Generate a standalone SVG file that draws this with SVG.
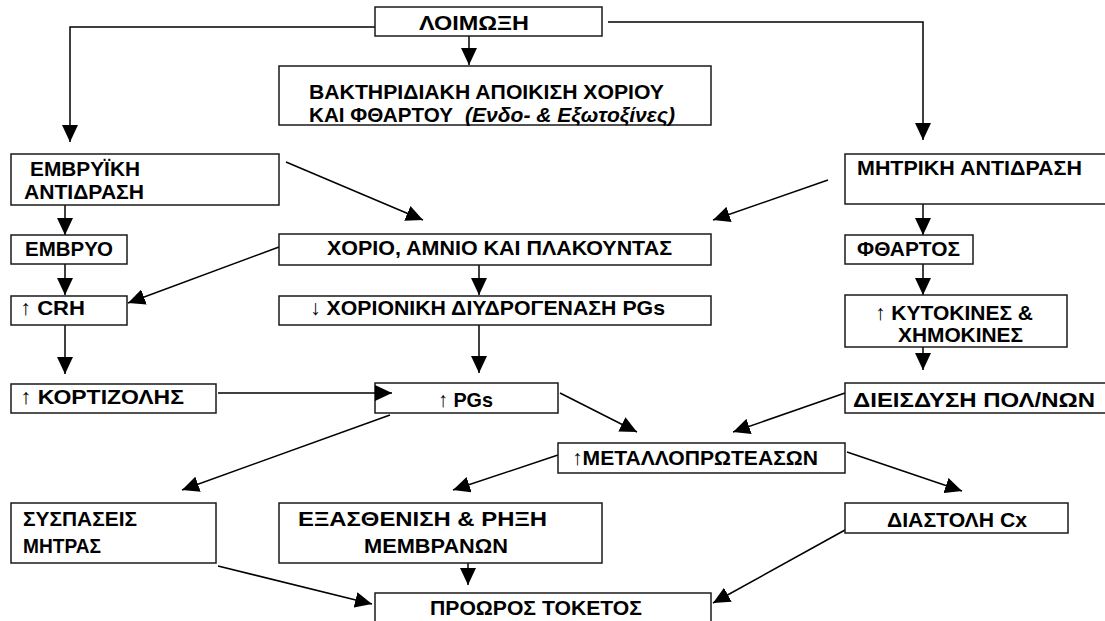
<svg xmlns="http://www.w3.org/2000/svg" width="1105" height="621" viewBox="0 0 1105 621">
<style>
.box{fill:#fff;stroke:#1a1a1a;stroke-width:1.5}
.t{font-family:"Liberation Sans",Arial,sans-serif;font-weight:bold;font-size:21px;fill:#000}
.i{font-style:italic}
.c{fill:none;stroke:#000;stroke-width:1.5;marker-end:url(#ah)}
</style>
<defs>
<marker id="ah" markerUnits="userSpaceOnUse" markerWidth="17" markerHeight="16" refX="17" refY="8" orient="auto" viewBox="0 0 17 16">
<path d="M0,0 L17,8 L0,16 z" fill="#000"/>
</marker>
</defs>
<rect width="1105" height="621" fill="#fff"/>
<g id="connectors">
<polyline class="c" points="375,27 70,27 70,142"/>
<polyline class="c" points="608,22 923,22 923,140"/>
<line class="c" x1="469" y1="36" x2="469" y2="65"/>
<line class="c" x1="65" y1="205" x2="65" y2="235"/>
<line class="c" x1="65" y1="264" x2="65" y2="295"/>
<line class="c" x1="65" y1="325" x2="65" y2="374"/>
<line class="c" x1="286" y1="162" x2="423" y2="220"/>
<line class="c" x1="828" y1="180" x2="713" y2="220"/>
<line class="c" x1="279" y1="247" x2="128" y2="303"/>
<line class="c" x1="479" y1="265" x2="479" y2="295"/>
<line class="c" x1="479" y1="325" x2="479" y2="373"/>
<line class="c" x1="923" y1="204" x2="923" y2="235"/>
<line class="c" x1="923" y1="264" x2="923" y2="295"/>
<line class="c" x1="923" y1="347" x2="923" y2="370"/>
<line class="c" x1="560" y1="393" x2="637" y2="432"/>
<line class="c" x1="845" y1="393" x2="733" y2="432"/>
<line class="c" x1="390" y1="415" x2="182" y2="490"/>
<line class="c" x1="558" y1="455" x2="453" y2="490"/>
<line class="c" x1="847" y1="452" x2="962" y2="491"/>
<line class="c" x1="468" y1="563" x2="468" y2="585"/>
<line class="c" x1="218" y1="566" x2="372" y2="604"/>
<line class="c" x1="845" y1="530" x2="713" y2="603"/>
</g>
<g id="n-loimoxi"><rect class="box" x="375" y="7" width="227" height="29"/><text class="t" x="419" y="30" textLength="110" lengthAdjust="spacingAndGlyphs">ΛΟΙΜΩΞΗ</text></g>
<g id="n-bakt"><rect class="box" x="279" y="66" width="432" height="59"/><text class="t" x="309" y="99" textLength="355" lengthAdjust="spacingAndGlyphs">ΒΑΚΤΗΡΙΔΙΑΚΗ ΑΠΟΙΚΙΣΗ ΧΟΡΙΟΥ</text><text class="t" x="309" y="122" textLength="144" lengthAdjust="spacingAndGlyphs">ΚΑΙ ΦΘΑΡΤΟΥ</text><text class="t i" x="465" y="122" textLength="210" lengthAdjust="spacingAndGlyphs">(Ενδο- &amp; Εξωτοξίνες)</text></g>
<g id="n-embryiki"><rect class="box" x="11" y="154" width="268" height="51"/><text class="t" x="30" y="176" textLength="110" lengthAdjust="spacingAndGlyphs">ΕΜΒΡΥΪΚΗ</text><text class="t" x="24" y="199" textLength="120" lengthAdjust="spacingAndGlyphs">ΑΝΤΙΔΡΑΣΗ</text></g>
<g id="n-mitriki"><rect class="box" x="845" y="154" width="270" height="50"/><text class="t" x="857" y="175" textLength="225" lengthAdjust="spacingAndGlyphs">ΜΗΤΡΙΚΗ ΑΝΤΙΔΡΑΣΗ</text></g>
<g id="n-embryo"><rect class="box" x="11" y="235" width="116" height="29"/><text class="t" x="25" y="256" textLength="88" lengthAdjust="spacingAndGlyphs">ΕΜΒΡΥΟ</text></g>
<g id="n-chorio"><rect class="box" x="279" y="234" width="432" height="31"/><text class="t" x="327" y="255" textLength="345" lengthAdjust="spacingAndGlyphs">ΧΟΡΙΟ, ΑΜΝΙΟ ΚΑΙ ΠΛΑΚΟΥΝΤΑΣ</text></g>
<g id="n-fthartos"><rect class="box" x="845" y="235" width="128" height="29"/><text class="t" x="857" y="256" textLength="103" lengthAdjust="spacingAndGlyphs">ΦΘΑΡΤΟΣ</text></g>
<g id="n-crh"><rect class="box" x="11" y="296" width="116" height="29"/><text class="t" x="20" y="315" textLength="65" lengthAdjust="spacingAndGlyphs">↑ CRH</text></g>
<g id="n-chorioniki"><rect class="box" x="279" y="296" width="432" height="29"/><text class="t" x="310" y="315" textLength="355" lengthAdjust="spacingAndGlyphs">↓ ΧΟΡΙΟΝΙΚΗ ΔΙΥΔΡΟΓΕΝΑΣΗ PGs</text></g>
<g id="n-kytokines"><rect class="box" x="845" y="295" width="222" height="52"/><text class="t" x="875" y="320" textLength="158" lengthAdjust="spacingAndGlyphs">↑ ΚΥΤΟΚΙΝΕΣ &amp;</text><text class="t" x="898" y="342" textLength="125" lengthAdjust="spacingAndGlyphs">ΧΗΜΟΚΙΝΕΣ</text></g>
<g id="n-kortizolis"><rect class="box" x="11" y="384" width="205" height="29"/><text class="t" x="20" y="404" textLength="164" lengthAdjust="spacingAndGlyphs">↑ ΚΟΡΤΙΖΟΛΗΣ</text></g>
<g id="n-pgs"><rect class="box" x="375" y="383" width="183" height="30"/><text class="t" x="438" y="407" textLength="55" lengthAdjust="spacingAndGlyphs">↑ PGs</text></g>
<g id="n-dieisdysi"><rect class="box" x="845" y="383" width="270" height="30"/><text class="t" x="853" y="407" textLength="242" lengthAdjust="spacingAndGlyphs">ΔΙΕΙΣΔΥΣΗ ΠΟΛ/ΝΩΝ</text></g>
<line class="c" x1="218" y1="393" x2="392" y2="393"/>
<g id="n-metallo"><rect class="box" x="558" y="443" width="287" height="30"/><text class="t" x="572" y="465" textLength="246" lengthAdjust="spacingAndGlyphs">↑ΜΕΤΑΛΛΟΠΡΩΤΕΑΣΩΝ</text></g>
<g id="n-syspaseis"><rect class="box" x="11" y="503" width="205" height="60"/><text class="t" x="23" y="526" textLength="114" lengthAdjust="spacingAndGlyphs">ΣΥΣΠΑΣΕΙΣ</text><text class="t" x="23" y="553" textLength="78" lengthAdjust="spacingAndGlyphs">ΜΗΤΡΑΣ</text></g>
<g id="n-exasthenisi"><rect class="box" x="279" y="503" width="323" height="60"/><text class="t" x="298" y="526" textLength="249" lengthAdjust="spacingAndGlyphs">ΕΞΑΣΘΕΝΙΣΗ &amp; ΡΗΞΗ</text><text class="t" x="364" y="553" textLength="144" lengthAdjust="spacingAndGlyphs">ΜΕΜΒΡΑΝΩΝ</text></g>
<g id="n-diastoli"><rect class="box" x="845" y="503" width="223" height="30"/><text class="t" x="887" y="527" textLength="140" lengthAdjust="spacingAndGlyphs">ΔΙΑΣΤΟΛΗ Cx</text></g>
<g id="n-proorOs"><rect class="box" x="375" y="593" width="336" height="40"/><text class="t" x="430" y="615" textLength="212" lengthAdjust="spacingAndGlyphs">ΠΡΟΩΡΟΣ ΤΟΚΕΤΟΣ</text></g>
</svg>
